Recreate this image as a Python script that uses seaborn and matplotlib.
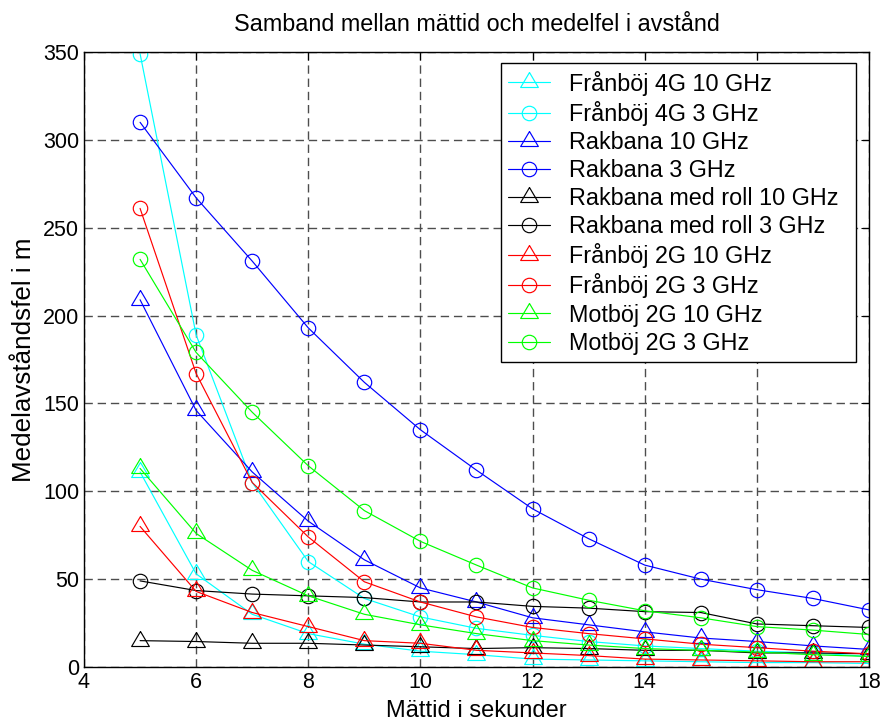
import matplotlib
matplotlib.use("Agg")
import matplotlib.pyplot as plt
import seaborn as sns
import numpy as np

# ---- data ----
x_vals = [5, 6, 7, 8, 9, 10, 11, 12, 13, 14, 15, 16, 17, 18]

labels = ["Frånböj 4G 10 GHz", "Frånböj 4G 3 GHz", "Rakbana 10 GHz", "Rakbana 3 GHz",
          "Rakbana med roll 10 GHz", "Rakbana med roll 3 GHz", "Frånböj 2G 10 GHz",
          "Frånböj 2G 3 GHz", "Motböj 2G 10 GHz", "Motböj 2G 3 GHz"]

franboj4g_10 = [111, 53, 30, 19, 13, 9, 7, 4.5, 4, 3.5, 3, 2.5, 2.5, 2]
franboj4g_3 = [349, 189, 105, 60, 39, 28.5, 22, 18, 14.5, 12, 10.5, 9, 8, 6]
rakbana_10 = [209, 146, 111, 83, 61, 45, 37, 28, 24, 20, 16.5, 14.5, 12, 10]
rakbana_3 = [310, 267, 231, 193, 162, 135, 112, 90, 73, 58, 50, 44, 39, 32.5]
rakroll_10 = [15, 14.5, 13.5, 13.5, 12.5, 11.5, 10.5, 11, 10.5, 9.5, 9.5, 8, 8, 7.5]
rakroll_3 = [49, 43.5, 41.5, 40.5, 39.5, 37, 37, 34.5, 33.5, 31.5, 31, 24.5, 23.5, 22.5]
franboj2g_10 = [80, 43, 31, 23, 15, 13.5, 9.5, 8, 6.5, 4.5, 4, 3.5, 3, 3]
franboj2g_3 = [261, 167, 105, 74, 48.5, 37, 28.5, 22.5, 19, 16, 13, 11, 9, 7.5]
motboj2g_10 = [113, 76, 55, 40.5, 30, 24, 19, 15, 12.5, 10.5, 9.5, 8.5, 7, 6]
motboj2g_3 = [232, 179, 145, 114.5, 89, 71.5, 58, 45, 38, 32, 28, 23, 21, 18.5]

series = [franboj4g_10, franboj4g_3, rakbana_10, rakbana_3, rakroll_10, rakroll_3,
          franboj2g_10, franboj2g_3, motboj2g_10, motboj2g_3]
colors = ["#00ffff", "#00ffff", "#0000ff", "#0000ff", "#000000", "#000000",
          "#ff0000", "#ff0000", "#00ff00", "#00ff00"]
kinds = ["tri", "circ", "tri", "circ", "tri", "circ", "tri", "circ", "tri", "circ"]

x_ticks = [4, 6, 8, 10, 12, 14, 16, 18]
y_ticks = [0, 50, 100, 150, 200, 250, 300, 350]

title = "Samband mellan mättid och medelfel i avstånd"
xlabel = "Mättid i sekunder"
ylabel = "Medelavståndsfel i m"

# ---- style ----
sns.set_style("white")
plt.rcParams["font.family"] = ["Liberation Sans", "DejaVu Sans"]
plt.rcParams["text.color"] = "black"
plt.rcParams["axes.labelcolor"] = "black"
plt.rcParams["xtick.color"] = "black"
plt.rcParams["ytick.color"] = "black"
plt.rcParams["xtick.direction"] = "in"
plt.rcParams["ytick.direction"] = "in"

# MATLAB-like flat triangle, centred on its centroid
tri_marker = [(0, 1), (-0.885, -0.5), (0.885, -0.5), (0, 1)]
marker_for = {"tri": (tri_marker, 14.4), "circ": ("o", 10.4)}

fig = plt.figure(figsize=(8.84, 7.26), dpi=100)
ax = fig.add_axes([84 / 884, 1 - 667 / 726, (869 - 84) / 884, (667 - 52) / 726])

for vals, lab, c, k in zip(series, labels, colors, kinds):
    mk, ms = marker_for[k]
    sns.lineplot(x=x_vals, y=vals, ax=ax, color=c, marker=mk, markersize=ms,
                 markerfacecolor="none", markeredgecolor=c, markeredgewidth=0.85,
                 linewidth=0.85, label=lab)

ax.set_xlim(4, 18)
ax.set_ylim(0, 350)
ax.set_xticks(x_ticks)
ax.set_yticks(y_ticks)
ax.tick_params(axis="both", which="both", direction="in", length=6, width=0.8,
               top=True, right=True, labelsize=15.5, colors="black")
ax.grid(True, color="0.3", linestyle=(0, (6, 3.5)), linewidth=1.0)
for s in ax.spines.values():
    s.set_visible(True)
    s.set_color("black")
    s.set_linewidth(1.0)

ax.set_title(title, fontsize=16.8, pad=15, color="black")
ax.set_xlabel(xlabel, fontsize=17, labelpad=5)
ax.set_ylabel(ylabel, fontsize=18.7, labelpad=5)

leg = ax.legend(loc="upper left", bbox_to_anchor=(0.531, 0.5, 0.452, 0.482),
                mode="expand", borderaxespad=0,
                fontsize=16.8, frameon=True, fancybox=False, framealpha=1,
                edgecolor="black", labelspacing=0.22, handlelength=1.8,
                handletextpad=0.8, borderpad=0.32)
leg.get_frame().set_linewidth(1.0)
for t in leg.get_texts():
    t.set_color("black")

fig.savefig("out.png", dpi=100)
